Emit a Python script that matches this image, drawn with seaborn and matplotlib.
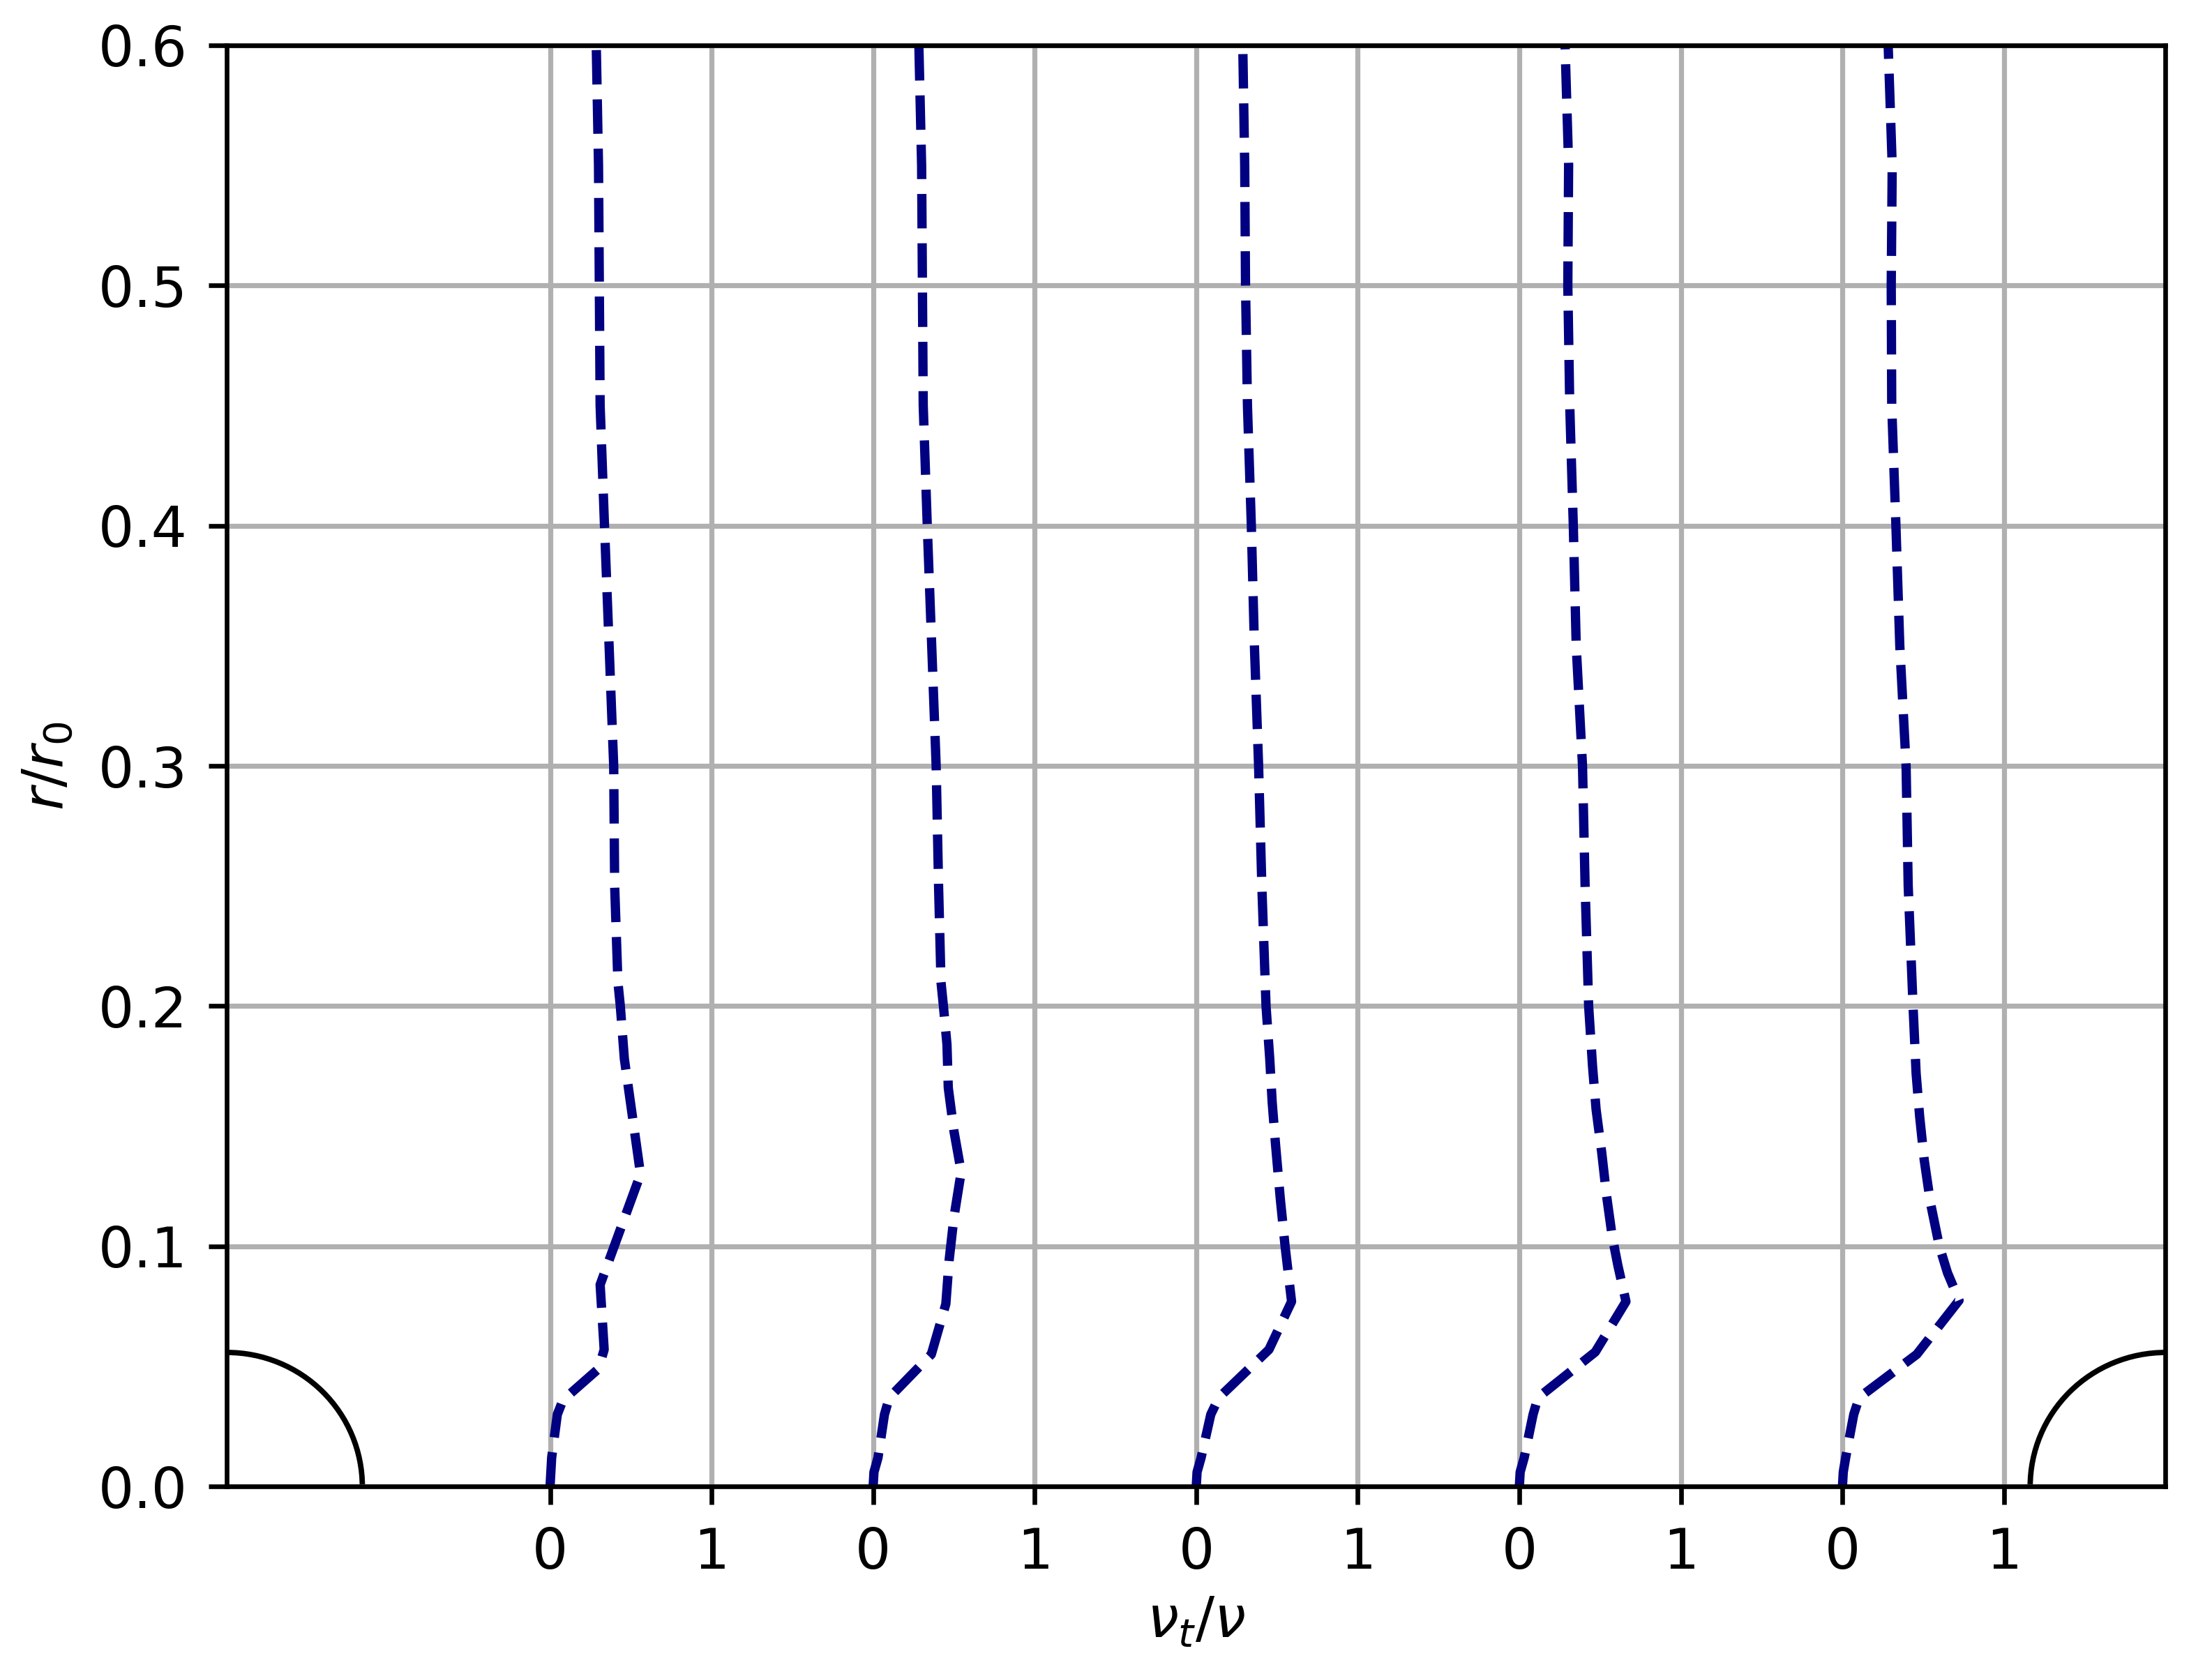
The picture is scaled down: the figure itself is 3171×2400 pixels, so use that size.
import numpy as np
import matplotlib
matplotlib.use("Agg")
import matplotlib.pyplot as plt
from matplotlib.patches import Ellipse
import seaborn as sns

# r/r0 stations and nu_t/nu values for the five profiles
y1 = [0, 0.006, 0.012, 0.030, 0.036, 0.049, 0.057, 0.084, 0.130, 0.178, 0.200, 0.210, 0.250, 0.300, 0.400, 0.450, 0.500, 0.550, 0.600]
x1 = [0, 0.005, 0.01, 0.045, 0.08, 0.30, 0.335, 0.31, 0.56, 0.46, 0.435, 0.42, 0.40, 0.394, 0.337, 0.31, 0.305, 0.30, 0.286]

y2 = [0, 0.006, 0.012, 0.030, 0.037, 0.055, 0.076, 0.094, 0.112, 0.131, 0.148, 0.166, 0.184, 0.200, 0.210, 0.250, 0.300, 0.400, 0.450, 0.500, 0.550, 0.600]
x2 = [0, 0.005, 0.03, 0.07, 0.10, 0.36, 0.45, 0.47, 0.50, 0.545, 0.50, 0.465, 0.457, 0.435, 0.42, 0.405, 0.39, 0.335, 0.31, 0.305, 0.30, 0.283]

y3 = [0, 0.006, 0.012, 0.030, 0.037, 0.057, 0.077, 0.100, 0.120, 0.143, 0.160, 0.178, 0.200, 0.250, 0.300, 0.350, 0.400, 0.450, 0.500, 0.550, 0.600]
x3 = [0, 0.005, 0.03, 0.09, 0.14, 0.45, 0.59, 0.55, 0.52, 0.49, 0.47, 0.455, 0.432, 0.406, 0.386, 0.36, 0.341, 0.317, 0.305, 0.30, 0.288]

y4 = [0, 0.006, 0.012, 0.030, 0.037, 0.056, 0.077, 0.092, 0.104, 0.121, 0.139, 0.157, 0.175, 0.200, 0.250, 0.300, 0.350, 0.400, 0.450, 0.500, 0.550, 0.600]
x4 = [0, 0.005, 0.03, 0.085, 0.115, 0.47, 0.66, 0.61, 0.575, 0.54, 0.51, 0.475, 0.453, 0.429, 0.407, 0.391, 0.352, 0.334, 0.312, 0.30, 0.305, 0.283]

y5 = [0, 0.006, 0.012, 0.030, 0.037, 0.055, 0.0775, 0.089, 0.100, 0.118, 0.136, 0.154, 0.172, 0.200, 0.250, 0.300, 0.350, 0.400, 0.450, 0.500, 0.550, 0.600]
x5 = [0, 0.005, 0.02, 0.07, 0.104, 0.46, 0.722, 0.65, 0.60, 0.545, 0.506, 0.478, 0.456, 0.437, 0.407, 0.394, 0.355, 0.331, 0.305, 0.302, 0.308, 0.283]

profiles = [(x1, y1), (x2, y2), (x3, y3), (x4, y4), (x5, y5)]
offsets = [2, 4, 6, 8, 10]      # where each profile's zero sits on the x axis
x_range = (0, 12)
y_range = (0, 0.6)

# cylinder sections at both ends
cyl_centers = [0, 12]
cyl_rx = 0.838
cyl_ry = 0.0558

fig = plt.figure(figsize=(3171 / 400, 2400 / 400), dpi=400)
ax = fig.add_axes([0.1026, 0.112, 0.8764, 0.861])

for (xs, ys), off in zip(profiles, offsets):
    sns.lineplot(x=np.array(xs) + off, y=ys, sort=False, estimator=None,
                 color="navy", linestyle="--", linewidth=2.4, ax=ax)

for c in cyl_centers:
    ax.add_patch(Ellipse((c, 0), 2 * cyl_rx, 2 * cyl_ry, fill=False,
                         edgecolor="black", linewidth=1.4))

ax.set_xlim(*x_range)
ax.set_ylim(*y_range)
ticks = [o + k for o in offsets for k in (0, 1)]
ax.set_xticks(ticks)
ax.set_xticklabels(["0", "1"] * len(offsets))
ax.set_yticks(np.arange(0, 0.61, 0.1))
ax.set_yticklabels([f"{v:.1f}" for v in np.arange(0, 0.61, 0.1)])
ax.grid(True, color="#b0b0b0", linewidth=1.3)

ax.tick_params(labelsize=14.5, length=4.7, width=1.2, pad=5.5)
for s in ax.spines.values():
    s.set_linewidth(1.2)

ax.set_xlabel(r"$\nu_t/\nu$", fontsize=14.5, labelpad=4)
ax.set_ylabel(r"$r/r_0$", fontsize=14.5, labelpad=6)

fig.savefig("out.png", dpi=400)
